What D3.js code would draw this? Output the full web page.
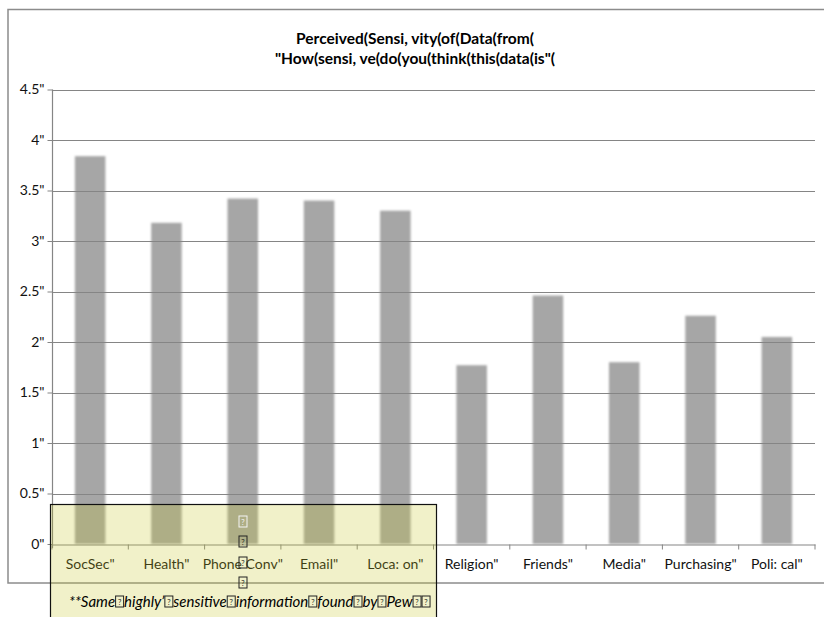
<!DOCTYPE html>
<html>
<head>
<meta charset="utf-8">
<script src="https://cdn.jsdelivr.net/npm/d3@7"></script>
<style>
  html, body { margin: 0; padding: 0; background: #fff; }
  svg { display: block; }
  text { font-family: Lato, "Open Sans", "DejaVu Sans", sans-serif; }
</style>
</head>
<body>
<svg id="chart" width="824" height="617"></svg>
<script>
// ---- data ----
const categories = ["SocSec\"", "Health\"", "Phone Conv\"", "Email\"", "Loca: on\"", "Religion\"", "Friends\"", "Media\"", "Purchasing\"", "Poli: cal\""];
const values = [3.84, 3.18, 3.42, 3.40, 3.30, 1.77, 2.46, 1.80, 2.26, 2.05];
const yTicks = [0, 0.5, 1, 1.5, 2, 2.5, 3, 3.5, 4, 4.5];
const titleLines = ["Perceived(Sensi, vity(of(Data(from(", "\"How(sensi, ve(do(you(think(this(data(is\"("];
const noteWords = ["**Same", "highly\u2019", "sensitive", "information", "found", "by", "Pew", ""];

const svg = d3.select("#chart");
const margin = { left: 52, right: 815, top: 89.5, bottom: 544 };

// blur filter for soft bar edges
const defs = svg.append("defs");
defs.append("filter").attr("id", "soft").attr("x", "-20%").attr("width", "140%")
  .append("feGaussianBlur").attr("stdDeviation", 0.9);

// outer chart border
svg.append("rect").attr("x", 8).attr("y", 9.5).attr("width", 840).attr("height", 573.5)
  .attr("fill", "#fff").attr("stroke", "#8c8c8c").attr("stroke-width", 1.5);

// title
svg.append("g").selectAll("text").data(titleLines).join("text")
  .attr("x", 415).attr("y", (d, i) => 44 + i * 20)
  .attr("text-anchor", "middle").attr("font-weight", "bold").attr("font-size", 15.5)
  .attr("fill", "#000").text(d => d);

const x = d3.scaleBand().domain(categories).range([margin.left, margin.right])
  .paddingInner(0.6).paddingOuter(0.3);
const y = d3.scaleLinear().domain([0, 4.5]).range([margin.bottom, margin.top]);

// bars
svg.append("g").attr("filter", "url(#soft)").selectAll("rect").data(values).join("rect")
  .attr("x", (d, i) => x(categories[i])).attr("width", x.bandwidth())
  .attr("y", d => y(d)).attr("height", d => y(0) - y(d))
  .attr("fill", "#a6a6a6");

// gridlines (over bars)
svg.append("g").selectAll("line").data(yTicks.filter(t => t > 0)).join("line")
  .attr("x1", margin.left).attr("x2", margin.right)
  .attr("y1", d => Math.round(y(d)) + 0.5).attr("y2", d => Math.round(y(d)) + 0.5)
  .attr("stroke", "#858585").attr("stroke-width", 1.2);

// y axis
const yAxis = svg.append("g").attr("transform", `translate(${margin.left + 0.5},0)`)
  .call(d3.axisLeft(y).tickValues(yTicks).tickSize(5).tickPadding(3).tickFormat(d => d + "\""));
yAxis.select(".domain").attr("stroke", "#858585").attr("stroke-width", 1.2).attr("d", `M0,${margin.top}V${margin.bottom + 4}`);
yAxis.selectAll(".tick line").attr("stroke", "#858585");
yAxis.selectAll(".tick text").attr("font-size", 14).attr("fill", "#111")
  .style("font-family", "Lato, sans-serif");

// x axis
const xAxis = svg.append("g").attr("transform", `translate(0,${Math.round(y(0)) + 0.5})`)
  .call(d3.axisBottom(x).tickSize(0).tickPadding(15));
xAxis.select(".domain").attr("stroke", "#858585").attr("stroke-width", 1.2);
xAxis.selectAll(".tick text").attr("font-size", 14).attr("fill", "#111")
  .style("font-family", "Lato, sans-serif");
// boundary tick marks
const step = x.step();
const bounds = d3.range(categories.length + 1).map(i => x(categories[0]) - x.paddingOuter() * step + i * step);
xAxis.append("g").selectAll("line").data(bounds).join("line")
  .attr("x1", d => d).attr("x2", d => d).attr("y1", 0).attr("y2", 5)
  .attr("stroke", "#858585");

// overlay note box
const note = svg.append("g");
note.append("rect").attr("x", 50.5).attr("y", 504.5).attr("width", 386).attr("height", 130)
  .attr("fill", "rgb(200,200,40)").attr("fill-opacity", 0.25).attr("stroke", "none");
note.append("rect").attr("x", 50.5).attr("y", 504.5).attr("width", 386).attr("height", 130)
  .attr("fill", "none").attr("stroke", "#111").attr("stroke-width", 1.2);

function tofu(g, cx, cy, light) {
  g.append("rect").attr("x", cx - 4).attr("y", cy - 6).attr("width", 8).attr("height", 11)
    .attr("fill", "none").attr("stroke", light ? "#f4f4f4" : "#222").attr("stroke-width", 1);
  g.append("text").attr("x", cx).attr("y", cy + 2.5).attr("text-anchor", "middle")
    .attr("font-size", 7.5).attr("fill", light ? "#f4f4f4" : "#222").text("?");
}

// vertical column of undisplayable glyphs
[522, 542, 563, 583].forEach((cy, i) => tofu(note, 243, cy, i === 0));

// note text
let cursor = 69;
const baseY = 607;
noteWords.forEach((w, i) => {
  if (w) {
    const t = note.append("text").attr("x", cursor).attr("y", baseY)
      .attr("font-size", 15).attr("font-style", "italic").attr("fill", "#000").text(w);
    cursor += t.node().getComputedTextLength();
  }
  tofu(note, cursor + 4.5, baseY - 5, false);
  cursor += 9;
});
</script>
</body>
</html>
